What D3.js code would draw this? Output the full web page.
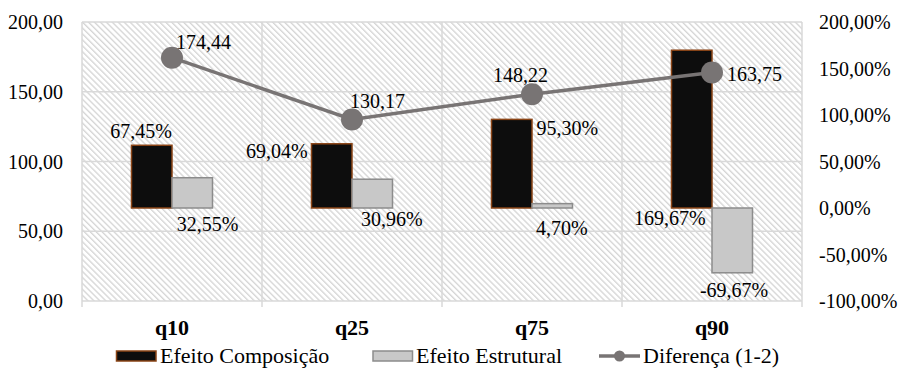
<!DOCTYPE html>
<html>
<head>
<meta charset="utf-8">
<script src="https://cdn.jsdelivr.net/npm/d3@7"></script>
</head>
<body style="margin:0">
<svg id="chart" width="902" height="370" style="display:block"></svg>
<script>
// ---- data ----
const categories = ["q10", "q25", "q75", "q90"];
const composicao = [67.45, 69.04, 95.30, 169.67];   // % (right axis)
const estrutural = [32.55, 30.96, 4.70, -69.67];    // % (right axis)
const diferenca  = [174.44, 130.17, 148.22, 163.75]; // left axis
const seriesNames = ["Efeito Composição", "Efeito Estrutural", "Diferença (1-2)"];
const leftTicks  = [0, 50, 100, 150, 200];
const rightTicks = [-100, -50, 0, 50, 100, 150, 200];

// ---- label placement (style, not data) ----
const lineLabelOffsets = [[4, -16], [-2, -18], [-39, -19], [15, 1]]; // start-anchored
const compLabelPos = [{at: "end", dx: -10.6, dy: -14.6}, {at: "end", dx: -55, dy: 7},
                      {at: "end", dx: 55.6, dy: 8.6}, {at: "base", dx: -22, dy: 10}];
const estrLabelPos = [{at: "base", dx: 15.4, dy: 15.6}, {at: "base", dx: 19.6, dy: 11},
                      {at: "base", dx: 9.6, dy: 20}, {at: "end", dx: 1.8, dy: 17}];

const loc = d3.formatLocale({decimal: ",", thousands: ".", grouping: [3], currency: ["", ""], minus: "-"});
const f2 = loc.format(".2f");

const FONT = `"Liberation Serif", monospace`;
const ctx = document.createElement("canvas").getContext("2d");
ctx.font = `20px ${FONT}`; ctx.measureText("Efeito Composição 0123456789,%");
ctx.font = `bold 22px ${FONT}`; ctx.measureText("q10 q25 q75 q90");

const svg = d3.select("#chart");
const L = 82, R = 802, T = 22, B = 301;

const x = d3.scaleBand().domain(categories).range([L, R]).paddingInner(0).paddingOuter(0);
const x1 = d3.scaleBand().domain([0, 1]).range([0, x.bandwidth()]).paddingInner(0).paddingOuter(1.222);
const yL = d3.scaleLinear().domain([0, 200]).range([B, T]);
const yR = d3.scaleLinear().domain([-100, 200]).range([B, T]);

// hatch pattern
const defs = svg.append("defs");
const pat = defs.append("pattern").attr("id", "hatch")
  .attr("patternUnits", "userSpaceOnUse").attr("width", 4.2).attr("height", 10)
  .attr("patternTransform", "rotate(-45)");
pat.append("rect").attr("width", 4.2).attr("height", 10).attr("fill", "#fff");
pat.append("line").attr("x1", 0.7).attr("x2", 0.7).attr("y1", 0).attr("y2", 10)
  .attr("stroke", "#d4d4d4").attr("stroke-width", 1.3);

svg.append("rect").attr("x", L).attr("y", T).attr("width", R - L).attr("height", B - T)
  .attr("fill", "url(#hatch)");

// gridlines
const gridColor = "#d9d9d9";
svg.append("g").selectAll("line").data(leftTicks).join("line")
  .attr("x1", L).attr("x2", R).attr("y1", d => yL(d)).attr("y2", d => yL(d))
  .attr("stroke", gridColor).attr("stroke-width", 1.5);
const bounds = categories.map(c => x(c)).concat([R]);
svg.append("g").selectAll("line").data(bounds).join("line")
  .attr("x1", d => d).attr("x2", d => d).attr("y1", T).attr("y2", B + 6)
  .attr("stroke", gridColor).attr("stroke-width", 1.5);

const txt = sel => sel.attr("font-family", FONT).attr("font-size", 20).attr("fill", "#000");

// left axis labels
svg.append("g").selectAll("text").data(leftTicks).join("text").call(txt)
  .attr("x", 63).attr("y", d => yL(d) + 7)
  .attr("text-anchor", "end")
  .text(d => f2(d));

// right axis labels
svg.append("g").selectAll("text").data(rightTicks).join("text").call(txt)
  .attr("x", 819).attr("y", d => yR(d) + 7)
  .attr("text-anchor", "start")
  .text(d => f2(d) + "%");

// category labels
svg.append("g").selectAll("text").data(categories).join("text").call(txt)
  .attr("font-size", 22)
  .attr("x", d => x(d) + x.bandwidth() / 2).attr("y", 335)
  .attr("text-anchor", "middle").attr("font-weight", "bold")
  .text(d => d);

// bars
const barStyle = [{fill: "#0d0d0d", stroke: "#8a4416"}, {fill: "#c8c8c8", stroke: "#8c8c8c"}];
const barSeries = [composicao, estrutural];
barSeries.forEach((vals, si) => {
  svg.append("g").selectAll("rect").data(vals).join("rect")
    .attr("x", (d, i) => x(categories[i]) + x1(si))
    .attr("width", x1.bandwidth())
    .attr("y", d => Math.min(yR(d), yR(0)))
    .attr("height", d => Math.abs(yR(d) - yR(0)))
    .attr("fill", barStyle[si].fill).attr("stroke", barStyle[si].stroke).attr("stroke-width", 1.5);
});

// bar labels
const labelPos = [compLabelPos, estrLabelPos];
barSeries.forEach((vals, si) => {
  svg.append("g").selectAll("text").data(vals).join("text").call(txt)
    .attr("x", (d, i) => x(categories[i]) + x1(si) + x1.bandwidth() / 2 + labelPos[si][i].dx)
    .attr("y", (d, i) => (labelPos[si][i].at === "end" ? yR(d) : yR(0)) + labelPos[si][i].dy + 7)
    .attr("text-anchor", "middle")
    .text(d => f2(d) + "%");
});

// line
const lineColor = "#787474";
const line = d3.line().x((d, i) => x(categories[i]) + x.bandwidth() / 2).y(d => yL(d));
svg.append("path").datum(diferenca).attr("d", line)
  .attr("fill", "none").attr("stroke", lineColor).attr("stroke-width", 3.5);
svg.append("g").selectAll("circle").data(diferenca).join("circle")
  .attr("cx", (d, i) => x(categories[i]) + x.bandwidth() / 2).attr("cy", d => yL(d))
  .attr("r", 11).attr("fill", lineColor);
svg.append("g").selectAll("text").data(diferenca).join("text").call(txt)
  .attr("x", (d, i) => x(categories[i]) + x.bandwidth() / 2 + lineLabelOffsets[i][0])
  .attr("y", (d, i) => yL(d) + lineLabelOffsets[i][1] + 7)
  .attr("text-anchor", "start")
  .text(d => f2(d));

// legend
const lg = svg.append("g");
const ly = 356;
lg.append("rect").attr("x", 116.5).attr("y", ly - 5).attr("width", 39.5).attr("height", 10)
  .attr("fill", barStyle[0].fill).attr("stroke", barStyle[0].stroke).attr("stroke-width", 1.5);
lg.append("text").call(txt).attr("font-size", 22).attr("x", 160).attr("y", ly + 7).text(seriesNames[0]);
lg.append("rect").attr("x", 373).attr("y", ly - 5).attr("width", 39.5).attr("height", 10)
  .attr("fill", barStyle[1].fill).attr("stroke", barStyle[1].stroke).attr("stroke-width", 1.5);
lg.append("text").call(txt).attr("font-size", 22).attr("x", 416).attr("y", ly + 7).text(seriesNames[1]);
lg.append("line").attr("x1", 599).attr("x2", 640).attr("y1", ly).attr("y2", ly)
  .attr("stroke", lineColor).attr("stroke-width", 3.5);
lg.append("circle").attr("cx", 619.5).attr("cy", ly).attr("r", 5.5).attr("fill", lineColor);
lg.append("text").call(txt).attr("font-size", 22).attr("x", 643).attr("y", ly + 7).text(seriesNames[2]);
</script>
</body>
</html>
